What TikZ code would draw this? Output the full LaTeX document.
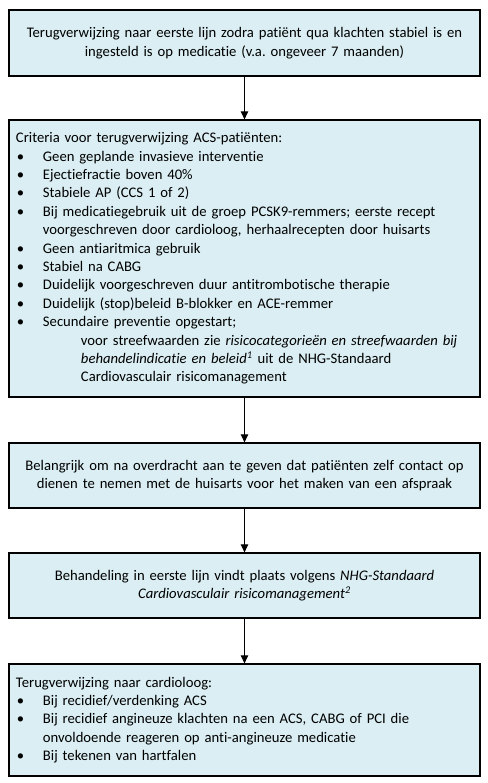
\documentclass[tikz,border=0pt]{standalone}
\usepackage{fontspec}
\setmainfont{Carlito}[RawFeature={-liga}]
\usetikzlibrary{arrows.meta}
\definecolor{boxfill}{HTML}{DAEEF3}
\frenchspacing
\newcommand\bul{\makebox[20.25pt][l]{\hspace{0.6pt}•}}
\newcommand\ind[1]{\hspace*{#1}}
\begin{document}
\begin{tikzpicture}[x=0.75pt,y=-0.75pt,
  box/.style={draw=black, line width=0.9pt, fill=boxfill, minimum width=353.25pt,
    text width=342.75pt, inner xsep=5.25pt, inner ysep=0pt,
    font=\fontsize{11}{13.8}\selectfont},
  arr/.style={-{Triangle[width=5.5pt,length=6pt]}, line width=0.75pt}]
\useasboundingbox (0,0) rectangle (488,783);
\node[box, align=center, minimum height=49.5pt] (b1) at (244.5,43)
  {Terugverwijzing naar eerste lijn zodra patiënt qua klachten stabiel is en\\
   ingesteld is op medicatie (v.a. ongeveer 7 maanden)};
\node[box, align=left, minimum height=207.75pt] (b2) at (244.5,258.5)
  {Criteria voor terugverwijzing ACS-patiënten:\\
   \bul Geen geplande invasieve interventie\\
   \bul Ejectiefractie boven 40\%\\
   \bul Stabiele AP (CCS 1 of 2)\\
   \bul Bij medicatiegebruik uit de groep PCSK9-remmers; eerste recept\\
   \ind{20.25pt}voorgeschreven door cardioloog, herhaalrecepten door huisarts\\
   \bul Geen antiaritmica gebruik\\
   \bul Stabiel na CABG\\
   \bul Duidelijk voorgeschreven duur antitrombotische therapie\\
   \bul Duidelijk (stop)beleid B-blokker en ACE-remmer\\
   \bul Secundaire preventie opgestart;\\
   \ind{48.75pt}voor streefwaarden zie \textit{risicocategorieën en streefwaarden bij}\\
   \ind{48.75pt}\textit{behandelindicatie en beleid\textsuperscript{1}} uit de NHG-Standaard\\
   \ind{48.75pt}Cardiovasculair risicomanagement};
\node[box, align=center, minimum height=48.75pt] (b3) at (244.5,475.5)
  {Belangrijk om na overdracht aan te geven dat patiënten zelf contact op\\
   dienen te nemen met de huisarts voor het maken van een afspraak};
\node[box, align=center, minimum height=48.75pt] (b4) at (244.5,585.5)
  {Behandeling in eerste lijn vindt plaats volgens \textit{NHG-Standaard}\\
   \textit{Cardiovasculair risicomanagement\textsuperscript{2}}};
\node[box, align=left, minimum height=84pt] (b5) at (244.5,720)
  {Terugverwijzing naar cardioloog:\\
   \bul Bij recidief/verdenking ACS\\
   \bul Bij recidief angineuze klachten na een ACS, CABG of PCI die\\
   \ind{20.25pt}onvoldoende reageren op anti-angineuze medicatie\\
   \bul Bij tekenen van hartfalen};
\draw[arr] (b1) -- (b2);
\draw[arr] (b2) -- (b3);
\draw[arr] (b3) -- (b4);
\draw[arr] (b4) -- (b5);
\end{tikzpicture}
\end{document}
